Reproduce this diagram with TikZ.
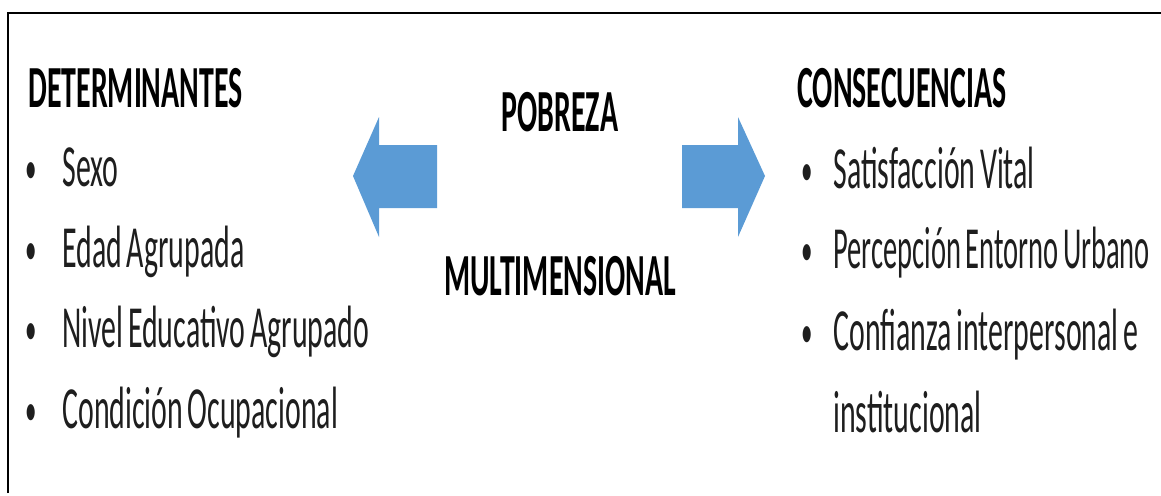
\documentclass[tikz,border=0pt]{standalone}
\usepackage{fontspec}
\usepackage{graphicx}
\setmainfont[FakeStretch=0.5, WordSpace=0.7]{Carlito}
\definecolor{flecha}{HTML}{5B9BD5}
\definecolor{texto}{HTML}{1E1E1E}

\tikzset{
	titulo/.style={anchor=base west, inner sep=0pt, text=black, font=\fontsize{34}{38}\selectfont\bfseries},
	centro/.style={anchor=base, inner sep=0pt, text=black, font=\fontsize{34}{38}\selectfont\bfseries},
	item/.style={anchor=base west, inner sep=0pt, text=texto, font=\fontsize{34}{38}\selectfont},
	punto/.style={anchor=base west, inner sep=0pt, text=texto, font=\fontsize{26}{30}\selectfont}
}

\begin{document}
\begin{tikzpicture}[x=0.02cm, y=-0.02cm]
				%%%%% START %%%%%
				\useasboundingbox (0, 0) rectangle (1161, 495);
				
				\draw[line width=1.2pt] (8, 493) -- (8, 13) -- (1161, 13);
				
				% izquierda
				\node[titulo] (det) at (28, 107) {DETERMINANTES};
				\node[punto] (p1) at (25, 183) {\textbullet};
				\node[item] (sexo) at (62, 186) {Sexo};
				\node[punto] (p2) at (25, 264) {\textbullet};
				\node[item] (edad) at (62, 267) {Edad Agrupada};
				\node[punto] (p3) at (25, 344) {\textbullet};
				\node[item] (nivel) at (62, 347) {Nivel Educativo Agrupado};
				\node[punto] (p4) at (25, 425) {\textbullet};
				\node[item] (cond) at (62, 428) {Condición Ocupacional};
				
				% centro
				\node[centro] (pob) at (560, 131) {POBREZA};
				\node[centro] (multi) at (560, 295) {MULTIMENSIONAL};
				
				\fill[flecha] (437, 145) -- (379, 145) -- (379, 117) -- (353, 176)
					-- (379, 237) -- (379, 208) -- (437, 208) -- cycle;
				\fill[flecha] (682, 145) -- (738, 145) -- (738, 117) -- (765, 176)
					-- (738, 237) -- (738, 208) -- (682, 208) -- cycle;
				
				% derecha
				\node[titulo] (cons) at (797, 107) {CONSECUENCIAS};
				\node[punto] (q1) at (801, 185) {\textbullet};
				\node[item] (sat) at (833, 188) {Satisfacción Vital};
				\node[punto] (q2) at (801, 265) {\textbullet};
				\node[item] (perc) at (833, 268) {\scalebox{0.955}[1]{Percepción Entorno Urbano}};
				\node[punto] (q3) at (801, 347) {\textbullet};
				\node[item] (conf) at (833, 350) {Confianza interpersonal e};
				\node[item] (inst) at (833, 432) {institucional};
				%%%%% END %%%%%
\end{tikzpicture}
\end{document}
